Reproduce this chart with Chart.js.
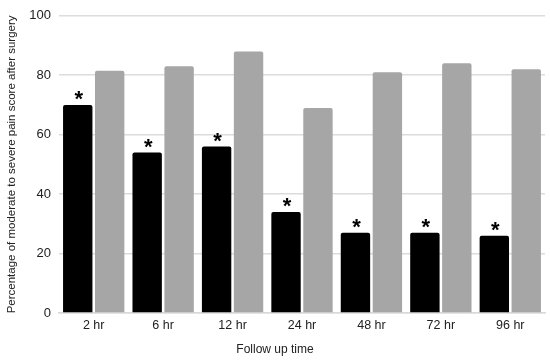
<!DOCTYPE html>
<html><head><meta charset="utf-8">
<script src="https://cdn.jsdelivr.net/npm/chart.js@4/dist/chart.umd.min.js"></script>
<style>html,body{margin:0;padding:0;background:#fff}#wrap{width:550px;height:362px}</style>
</head><body><div id="wrap"><canvas id="c"></canvas></div>
<script>
const categories = ["2 hr","6 hr","12 hr","24 hr","48 hr","72 hr","96 hr"];
const groupA = [70, 54, 56, 34, 27, 27, 26];
const groupB = [81.5, 83, 88, 69, 81, 84, 82];
const significant = [true, true, true, true, true, true, true];
const yTicks = [0, 20, 40, 60, 80, 100];
const xTitle = "Follow up time";
const yTitle = "Percentage of moderate to severe pain score after surgery";

const starPlugin = {
  id: 'stars',
  afterDatasetsDraw(chart) {
    const ctx = chart.ctx;
    const meta = chart.getDatasetMeta(0);
    ctx.save();
    ctx.fillStyle = '#000';
    ctx.font = 'bold 22px "Liberation Sans", Arial, sans-serif';
    ctx.textAlign = 'center';
    ctx.textBaseline = 'middle';
    meta.data.forEach((bar, i) => {
      if (significant[i]) ctx.fillText('*', bar.x + 1, bar.y - 5);
    });
    // x-axis title
    ctx.font = '12px "Liberation Sans", Arial, sans-serif';
    ctx.fillStyle = '#222';
    const ca = chart.chartArea;
    ctx.fillText(xTitle, (ca.left + ca.right) / 2 - 27, 350);
    ctx.restore();
  }
};

new Chart(document.getElementById('c'), {
  type: 'bar',
  data: {
    labels: categories,
    datasets: [
      { data: groupA, backgroundColor: '#000000', borderRadius: 2, borderSkipped: 'bottom',
        categoryPercentage: 0.92, barPercentage: 0.92 },
      { data: groupB, backgroundColor: '#a6a6a6', borderRadius: 2, borderSkipped: 'bottom',
        categoryPercentage: 0.92, barPercentage: 0.92 }
    ]
  },
  options: {
    responsive: true,
    maintainAspectRatio: false,
    animation: false,
    layout: { padding: { top: 8, right: 5, left: 5, bottom: 0 } },
    plugins: { legend: { display: false }, tooltip: { enabled: false } },
    scales: {
      x: {
        grid: { display: false, drawTicks: false },
        border: { display: true, color: '#d9d9d9', width: 1.5 },
        ticks: { color: '#222', font: { family: '"Liberation Sans", Arial, sans-serif', size: 12.5 }, padding: 5 },
        afterFit(s) { s.height = 49; }
      },
      y: {
        min: 0, max: 100,
        afterBuildTicks(s) { s.ticks = yTicks.map(v => ({ value: v })); },
        grid: { color: '#dcdcdc', lineWidth: 1.5, drawTicks: false },
        border: { display: false },
        ticks: { color: '#222', font: { family: '"Liberation Sans", Arial, sans-serif', size: 13 }, padding: 8 },
        title: { display: true, text: yTitle, color: '#222', font: { family: '"Liberation Sans", Arial, sans-serif', size: 11.5 }, padding: 0 },
        afterFit(s) { s.width = 54; }
      }
    }
  },
  plugins: [starPlugin]
});
</script></body></html>
